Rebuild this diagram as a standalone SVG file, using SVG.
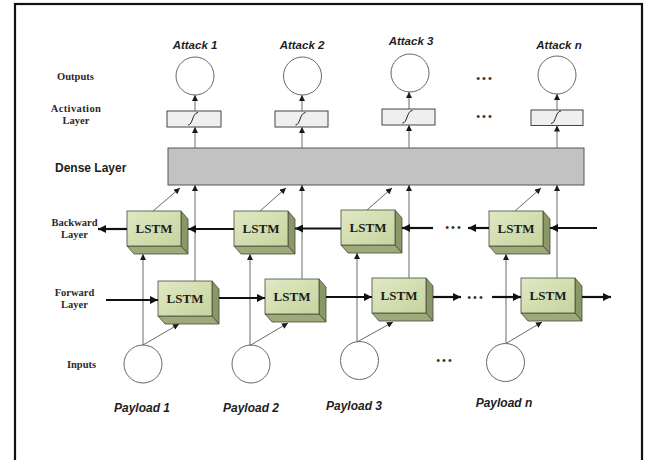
<svg xmlns="http://www.w3.org/2000/svg" width="648" height="460" viewBox="0 0 648 460">
  <style>
    .lbl { font-family: "Liberation Serif", "Times New Roman", serif; font-weight: bold; font-size: 10.5px; fill: #2a2a2a; text-anchor: middle; }
    .cap { font-family: "Liberation Sans", Arial, sans-serif; font-weight: bold; font-style: italic; fill: #1e1e1e; text-anchor: middle; }
    .lstm-t { font-family: "Liberation Serif", "Times New Roman", serif; font-weight: bold; font-size: 13px; fill: #1c1c1c; text-anchor: middle; }
    .dots { font-family: "Liberation Sans", Arial, sans-serif; font-size: 11px; fill: #333; text-anchor: middle; letter-spacing: 2px; }
    .node { fill: #ffffff; stroke: #666; stroke-width: 1; }
    .act { fill: #efefef; stroke: #444; stroke-width: 1; }
    .sig { fill: none; stroke: #222; stroke-width: 1; }
    .front { fill: url(#lstmFace); stroke: #4a4a3c; stroke-width: 0.8; }
    .side { fill: #8a9766; stroke: #4a4a3c; stroke-width: 0.8; }
    .bottom { fill: #9eaa7a; stroke: #4a4a3c; stroke-width: 0.8; }
    .thin { fill: none; stroke: #6a6a6a; stroke-width: 1; marker-end: url(#ah); }
    .thick { fill: none; stroke: #111; stroke-width: 2.2; marker-end: url(#ahBig); }
  </style>
  <defs>
    <linearGradient id="lstmFace" x1="0" y1="0" x2="1" y2="1">
      <stop offset="0" stop-color="#e0e9c4"/>
      <stop offset="1" stop-color="#c6d49e"/>
    </linearGradient>
    <marker id="ah" viewBox="0 0 10 10" refX="10" refY="5" markerWidth="7" markerHeight="6" markerUnits="userSpaceOnUse" orient="auto">
      <path d="M0,0 L10,5 L0,10 z" fill="#1a1a1a"/>
    </marker>
    <marker id="ahBig" viewBox="0 0 10 10" refX="10" refY="5" markerWidth="11" markerHeight="8" markerUnits="userSpaceOnUse" orient="auto">
      <path d="M0,0 L10,5 L0,10 z" fill="#111"/>
    </marker>
    <!-- sigmoid glyph, centred on (0,0) -->
    <path id="sigmoid" class="sig" d="M-6,6 C-1,6 -2,-6 4,-6.5"/>
    <!-- 3D LSTM block, front face 54x35, extrusion 7x8 -->
    <g id="lstmBox">
      <polygon class="side" points="54,0 61,8 61,43 54,35"/>
      <polygon class="bottom" points="0,35 54,35 61,43 7,43"/>
      <rect class="front" x="0" y="0" width="54" height="35"/>
      <text class="lstm-t" x="27" y="22">LSTM</text>
    </g>
  </defs>

  <!-- outer frame -->
  <rect x="15" y="4" width="627" height="470" fill="#ffffff" stroke="#111" stroke-width="2.2"/>

  <!-- row labels -->
  <g id="row-labels">
    <text class="lbl" x="75.5" y="80">Outputs</text>
    <text class="lbl" x="76" y="112" letter-spacing="0.4">Activation</text>
    <text class="lbl" x="76" y="124">Layer</text>
    <text x="55" y="172" font-family="Liberation Sans, Arial, sans-serif" font-weight="bold" font-size="12px" fill="#1e1e1e">Dense Layer</text>
    <text class="lbl" x="74.5" y="226">Backward</text>
    <text class="lbl" x="74.5" y="238">Layer</text>
    <text class="lbl" x="74.5" y="296">Forward</text>
    <text class="lbl" x="74.5" y="308">Layer</text>
    <text class="lbl" x="81.5" y="368">Inputs</text>
  </g>

  <!-- output nodes -->
  <g id="out-1"><circle class="node" cx="195" cy="76" r="19"/><text class="cap" x="195" y="49" font-size="11.5px">Attack 1</text></g>
  <g id="out-2"><circle class="node" cx="302.5" cy="76" r="19"/><text class="cap" x="302" y="49" font-size="11.5px">Attack 2</text></g>
  <g id="out-3"><circle class="node" cx="410" cy="73" r="19"/><text class="cap" x="411" y="45" font-size="11.5px">Attack 3</text></g>
  <g id="out-n"><circle class="node" cx="557" cy="75" r="19"/><text class="cap" x="559" y="49" font-size="11.5px">Attack n</text></g>
  <text class="dots" x="485" y="82">•••</text>

  <!-- activation units -->
  <g id="act-1"><rect class="act" x="167" y="111" width="54" height="16"/><use href="#sigmoid" x="194" y="119"/></g>
  <g id="act-2"><rect class="act" x="275" y="111" width="53" height="16"/><use href="#sigmoid" x="301.5" y="119"/></g>
  <g id="act-3"><rect class="act" x="382" y="109" width="53" height="16"/><use href="#sigmoid" x="408.5" y="117"/></g>
  <g id="act-n"><rect class="act" x="531" y="110" width="52" height="15.5"/><use href="#sigmoid" x="557" y="117.5"/></g>
  <text class="dots" x="485" y="120">•••</text>

  <!-- dense layer -->
  <g id="dense"><rect x="168" y="148" width="416" height="37" fill="#c2c2c2" stroke="#555" stroke-width="1"/></g>

  <!-- backward LSTM cells -->
  <g id="bwd-1"><use href="#lstmBox" x="127" y="211"/></g>
  <g id="bwd-2"><use href="#lstmBox" x="234" y="211"/></g>
  <g id="bwd-3"><use href="#lstmBox" x="341" y="210"/></g>
  <g id="bwd-n"><use href="#lstmBox" x="489" y="211"/></g>
  <text class="dots" x="454" y="231">•••</text>

  <!-- forward LSTM cells -->
  <g id="fwd-1"><use href="#lstmBox" x="158" y="281"/></g>
  <g id="fwd-2"><use href="#lstmBox" x="265" y="279"/></g>
  <g id="fwd-3"><use href="#lstmBox" x="372" y="278"/></g>
  <g id="fwd-n"><use href="#lstmBox" x="521" y="278"/></g>
  <text class="dots" x="476" y="301">•••</text>

  <!-- input nodes -->
  <g id="in-1"><circle class="node" cx="143" cy="364" r="19"/><text class="cap" x="142" y="412" font-size="12px">Payload 1</text></g>
  <g id="in-2"><circle class="node" cx="251" cy="364" r="19"/><text class="cap" x="251" y="412" font-size="12px">Payload 2</text></g>
  <g id="in-3"><circle class="node" cx="359.5" cy="360.5" r="19"/><text class="cap" x="354" y="410" font-size="12px">Payload 3</text></g>
  <g id="in-n"><circle class="node" cx="505.5" cy="362.5" r="19"/><text class="cap" x="504" y="407" font-size="12px">Payload n</text></g>
  <text class="dots" x="445" y="364">•••</text>

  <!-- connectors -->
  <g id="connectors">
    <!-- activation -> output -->
    <line class="thin" x1="195" y1="111" x2="195" y2="95"/>
    <line class="thin" x1="302" y1="111" x2="302" y2="95"/>
    <line class="thin" x1="409" y1="109" x2="409" y2="92"/>
    <line class="thin" x1="557" y1="110" x2="557" y2="94"/>
    <!-- dense -> activation -->
    <line class="thin" x1="195" y1="148" x2="195" y2="127"/>
    <line class="thin" x1="302" y1="148" x2="302" y2="127"/>
    <line class="thin" x1="409" y1="148" x2="409" y2="125"/>
    <line class="thin" x1="557" y1="148" x2="557" y2="125.5"/>
    <!-- forward cell -> dense -->
    <line class="thin" x1="195" y1="281" x2="195" y2="185"/>
    <line class="thin" x1="302" y1="279" x2="302" y2="185"/>
    <line class="thin" x1="409" y1="278" x2="409" y2="185"/>
    <line class="thin" x1="557" y1="278" x2="557" y2="185"/>
    <!-- backward cell -> dense -->
    <line class="thin" x1="153" y1="211" x2="180" y2="188"/>
    <line class="thin" x1="260" y1="211" x2="286" y2="188"/>
    <line class="thin" x1="367" y1="210" x2="392" y2="188"/>
    <line class="thin" x1="515" y1="211" x2="541" y2="188"/>
    <!-- input -> backward cell -->
    <line class="thin" x1="143" y1="345" x2="143" y2="254"/>
    <line class="thin" x1="250" y1="345.5" x2="250" y2="254"/>
    <line class="thin" x1="357" y1="342" x2="357" y2="253"/>
    <line class="thin" x1="506" y1="343.5" x2="506" y2="254"/>
    <!-- input -> forward cell -->
    <line class="thin" x1="143" y1="345" x2="179" y2="324"/>
    <line class="thin" x1="250" y1="345.5" x2="288" y2="323"/>
    <line class="thin" x1="357" y1="342" x2="393" y2="322"/>
    <line class="thin" x1="506" y1="343.5" x2="542" y2="322"/>
    <!-- backward recurrence (right to left) -->
    <line class="thick" x1="127" y1="229" x2="98" y2="229"/>
    <line class="thick" x1="234" y1="229" x2="188" y2="229"/>
    <line class="thick" x1="341" y1="228.5" x2="295" y2="228.5"/>
    <line class="thick" x1="433" y1="228" x2="402" y2="228"/>
    <line class="thick" x1="489" y1="228" x2="468" y2="228"/>
    <line class="thick" x1="597" y1="228" x2="550" y2="228"/>
    <!-- forward recurrence (left to right) -->
    <line class="thick" x1="106" y1="300" x2="158" y2="300"/>
    <line class="thick" x1="219" y1="298" x2="265" y2="298"/>
    <line class="thick" x1="326" y1="297" x2="372" y2="297"/>
    <line class="thick" x1="433" y1="297" x2="461" y2="297"/>
    <line class="thick" x1="492" y1="297" x2="521" y2="297"/>
    <line class="thick" x1="582" y1="297" x2="611" y2="297"/>
  </g>
</svg>
